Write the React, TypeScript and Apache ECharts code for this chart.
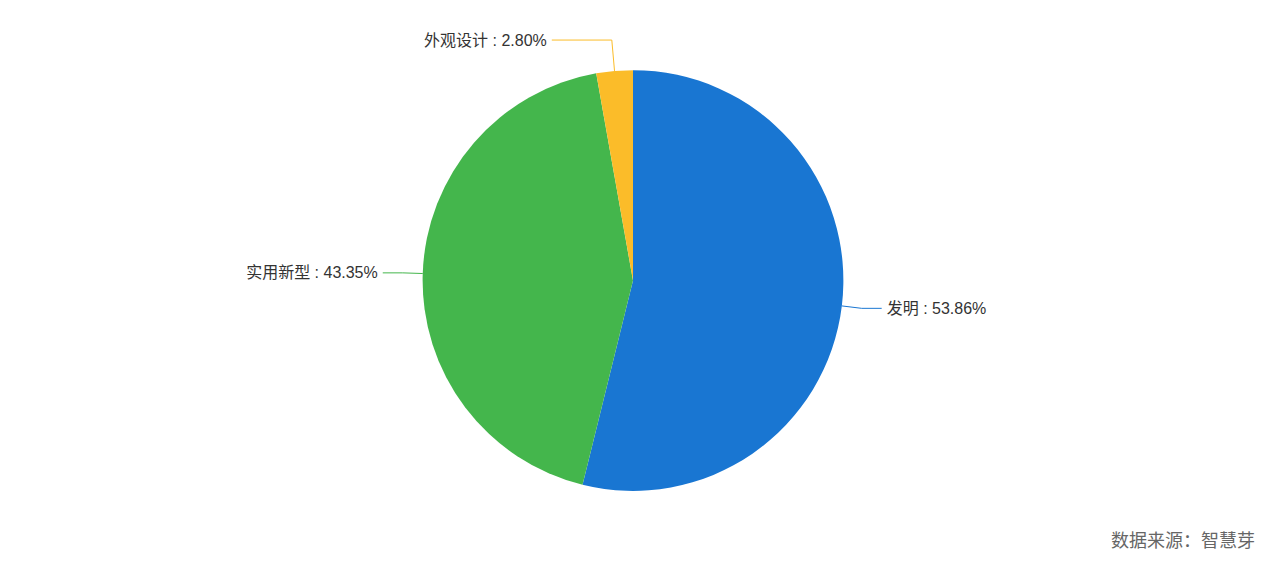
import React, { useEffect, useRef } from "react";
import * as echarts from "echarts";

const categories = ["发明", "实用新型", "外观设计"];
const shares = [53.86, 43.35, 2.8];
const colors = ["#1976D2", "#44B64C", "#FBBC29"];
const sourceText = "数据来源：智慧芽";

const App = () => {
  const chartRef = useRef<HTMLDivElement>(null);

  useEffect(() => {
    if (!chartRef.current) return undefined;
    const chart = echarts.init(chartRef.current, null, { renderer: "svg" });

    const options: echarts.EChartsOption = {
      animation: false,
      color: colors,
      textStyle: {
        fontFamily: "'Liberation Sans', Arial, 'Noto Sans CJK SC', sans-serif",
      },
      graphic: [
        {
          type: "text",
          right: 11,
          bottom: 13,
          style: {
            text: sourceText,
            fill: "#666",
            fontSize: 18,
            fontFamily: "'Noto Sans CJK SC', sans-serif",
          },
        },
      ],
      series: [
        {
          type: "pie",
          radius: "75%",
          center: ["50%", "50%"],
          startAngle: 90,
          label: {
            color: "#333",
            fontSize: 16,
            formatter: (p: any) => `${p.name} : ${Number(p.value).toFixed(2)}%`,
          },
          labelLine: {
            length: 20,
            length2: 20,
          },
          // small slice at the top: longer line so the label sits up and to the left
          data: categories.map((name, i) =>
            i === 2
              ? { name, value: shares[i], labelLine: { length: 31, length2: 60 } }
              : { name, value: shares[i] }
          ),
        },
      ],
    };
    chart.setOption(options);
    return () => {
      chart.dispose();
    };
  }, []);

  return (
    <div
      ref={chartRef}
      style={{ position: "absolute", left: 0, top: 0, width: "1266px", height: "561px" }}
    />
  );
};

export default App;
